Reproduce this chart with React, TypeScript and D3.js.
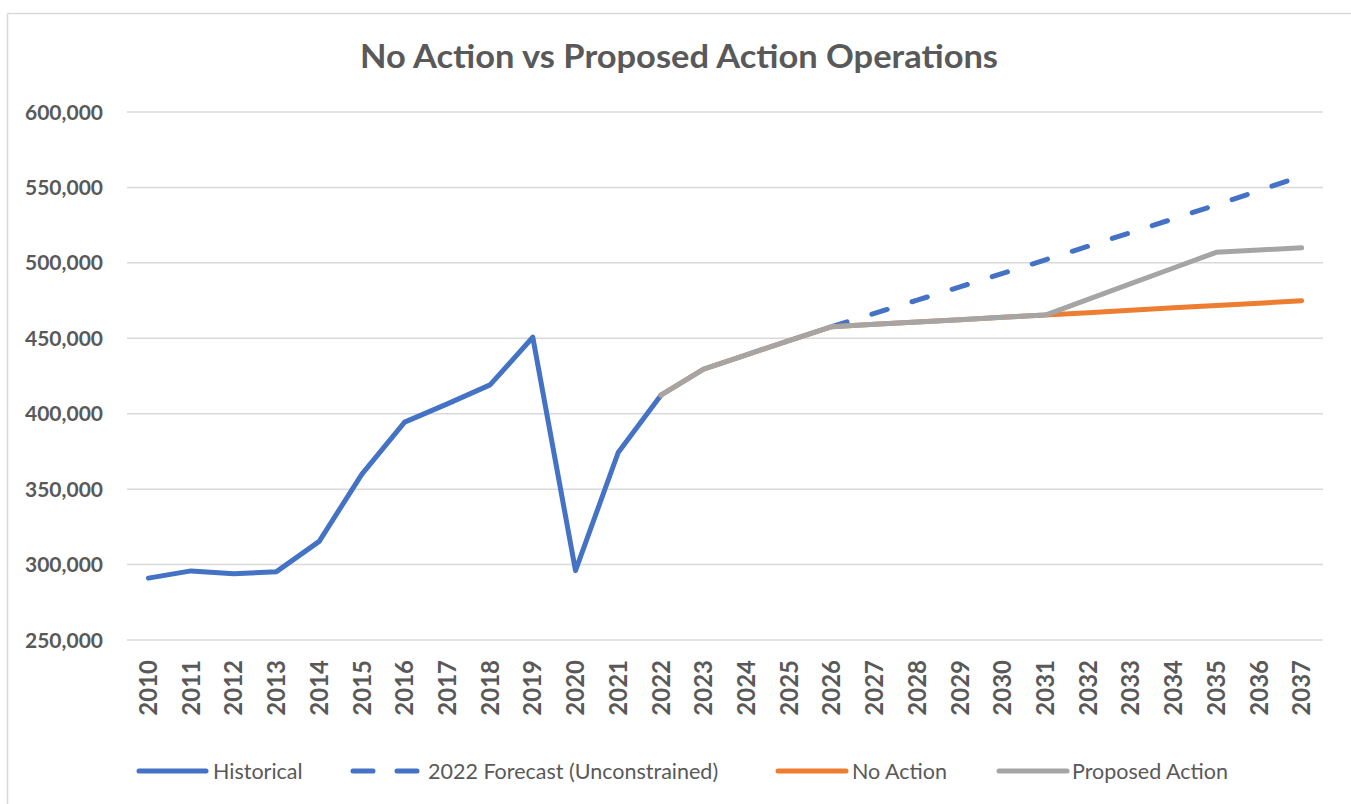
import * as d3 from "d3"

const years = [
  "2010", "2011", "2012", "2013", "2014", "2015", "2016", "2017", "2018", "2019",
  "2020", "2021", "2022", "2023", "2024", "2025", "2026", "2027", "2028", "2029",
  "2030", "2031", "2032", "2033", "2034", "2035", "2036", "2037",
]

// 2010 - 2022
const historical = [
  291000, 295800, 293900, 295300, 315400, 360000, 394400, 406500, 419100, 450700,
  296000, 374300, 412300,
]

// 2026 - 2037
const forecast2022 = [
  457700, 466500, 475300, 484100, 493000, 502000, 511000, 520100, 529200, 538400,
  547900, 557500,
]

// 2022 - 2037
const noAction = [
  412300, 429500, 439000, 448500, 457700, 459300, 460800, 462300, 463900, 465400,
  467000, 468600, 470200, 471700, 473300, 474900,
]

// 2022 - 2037
const proposedAction = [
  412300, 429500, 439000, 448500, 457700, 459300, 460800, 462300, 463900, 465400,
  475800, 486200, 496600, 507000, 508500, 510000,
]

const seriesNames = ["Historical", "2022 Forecast (Unconstrained)", "No Action", "Proposed Action"]

const W = 1351
const H = 804
const font = "Lato, 'Open Sans', sans-serif"
const textColor = "#595959"

export default function App() {
  const x = d3.scaleBand<string>().domain(years).range([127, 1323]).padding(0)
  const cx = (yr: string) => (x(yr) as number) + x.bandwidth() / 2
  const y = d3.scaleLinear().domain([250000, 600000]).range([640, 112])
  const yTicks = y.ticks(7)
  const fmt = d3.format(",")

  const line = d3.line<[string, number]>()
    .x(d => cx(d[0]))
    .y(d => y(d[1]))

  const zip = (start: number, vals: number[]) =>
    vals.map((v, i) => [years[start + i], v] as [string, number])

  const series = [
    { pts: zip(0, historical), color: "#4472C4", dash: undefined },
    { pts: zip(16, forecast2022), color: "#4472C4", dash: "16 26" },
    { pts: zip(12, noAction), color: "#ED7D31", dash: undefined },
    { pts: zip(12, proposedAction), color: "#A5A5A5", dash: undefined },
  ]

  // legend layout: [line start, line end, text x]
  const legendPos = [
    [139, 206, 213],
    [353, 422, 428],
    [778, 846, 852],
    [999, 1067, 1072],
  ]

  return (
    <svg
      width={W}
      height={H}
      viewBox={`0 0 ${W} ${H}`}
      style={{ position: "absolute", left: 0, top: 0, background: "#fff" }}
    >
      <rect x={0} y={0} width={W} height={H} fill="#fff" />
      {/* chart border (only top & left visible) */}
      <line x1={7.5} x2={W} y1={13.5} y2={13.5} stroke="#D9D9D9" strokeWidth={1.5} />
      <line x1={7.5} x2={7.5} y1={13.5} y2={H} stroke="#D9D9D9" strokeWidth={1.5} />

      <text
        x={360}
        y={68}
        textLength={638}
        lengthAdjust="spacingAndGlyphs"
        fontFamily={font}
        fontWeight={700}
        fontSize={32}
        fill={textColor}
      >
        No Action vs Proposed Action Operations
      </text>

      {/* gridlines + y labels */}
      {yTicks.map(t => (
        <g key={t}>
          <line x1={127} x2={1323} y1={y(t)} y2={y(t)} stroke="#D9D9D9" strokeWidth={1.5} />
          <text
            x={103}
            y={y(t)}
            dy="0.36em"
            textAnchor="end"
            fontFamily={font}
            fontWeight={700}
            fontSize={21}
            fill={textColor}
          >
            {fmt(t)}
          </text>
        </g>
      ))}

      {/* x labels */}
      {years.map(yr => (
        <text
          key={yr}
          transform={`translate(${cx(yr)}, 660) rotate(-90)`}
          dy="0.36em"
          textAnchor="end"
          fontFamily={font}
          fontWeight={700}
          fontSize={24}
          fill={textColor}
        >
          {yr}
        </text>
      ))}

      {/* series */}
      {series.map((s, i) => (
        <path
          key={i}
          d={line(s.pts) as string}
          fill="none"
          stroke={s.color}
          strokeWidth={5}
          strokeLinejoin="round"
          strokeLinecap="round"
          strokeDasharray={s.dash}
        />
      ))}

      {/* legend */}
      {seriesNames.map((name, i) => {
        const [a, b, tx] = legendPos[i]
        return (
          <g key={name}>
            <line
              x1={a}
              x2={b}
              y1={771}
              y2={771}
              stroke={series[i].color}
              strokeWidth={5}
              strokeLinecap="round"
              strokeDasharray={series[i].dash ? "20 24" : undefined}
            />
            <text
              x={tx}
              y={771}
              dy="0.36em"
              fontFamily={font}
              fontSize={21.5}
              fill={textColor}
            >
              {name}
            </text>
          </g>
        )
      })}
    </svg>
  )
}
